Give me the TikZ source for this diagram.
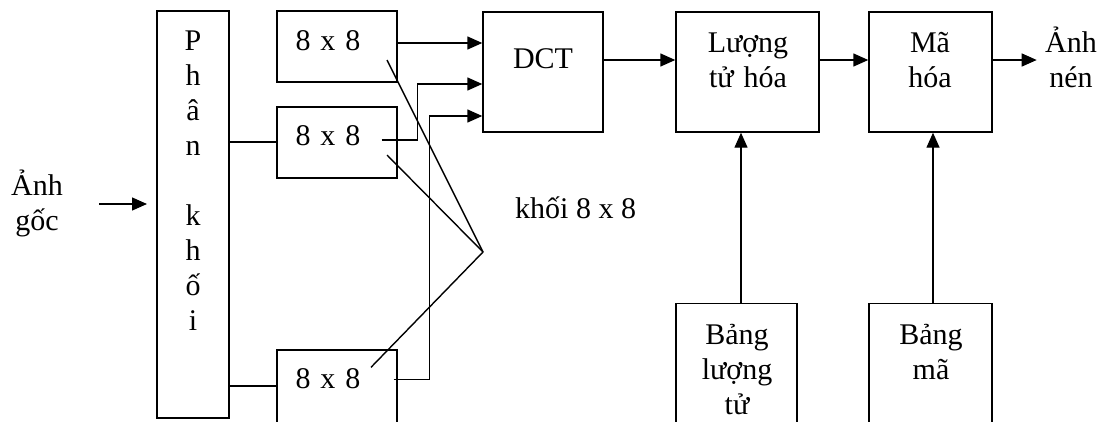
\documentclass[tikz,border=0pt]{standalone}
\usepackage{fontspec}
\setmainfont{Liberation Serif}
\usetikzlibrary{arrows.meta,calc}
\begin{document}
\begin{tikzpicture}[
  x=1pt,y=-1pt,
  font=\fontsize{30}{35}\selectfont,
  box/.style={draw,line width=1.4pt,inner sep=0pt},
  lbl/.style={anchor=base,align=center,text width=150pt,inner sep=0pt},
  link/.style={line width=1.4pt},
  arrow/.style={link,-{Triangle[length=15pt,width=13pt]}}
]
\useasboundingbox (0,0) rectangle (1107,421);
\clip (0,0) rectangle (1107,421);
\node[box,minimum width=72pt,minimum height=407pt] (split) at (193,214.5) {};
\node[box,minimum width=120pt,minimum height=71pt] (blockA) at (337,46.5) {};
\node[box,minimum width=120pt,minimum height=71pt] (blockB) at (337,142.5) {};
\node[box,minimum width=120pt,minimum height=90pt] (blockC) at (337,395) {};
\node[box,minimum width=120pt,minimum height=120pt] (dct) at (543,72) {};
\node[box,minimum width=143pt,minimum height=120pt] (quant) at (747.5,72) {};
\node[box,minimum width=123pt,minimum height=120pt] (coder) at (930.5,72) {};
\node[box,minimum width=121pt,minimum height=136.5pt] (qtable) at (736.5,371.75) {};
\node[box,minimum width=123pt,minimum height=136.5pt] (ctable) at (930.5,371.75) {};
\node[lbl] (srctxt) at (37,195) {Ảnh\\gốc};
\node[lbl] (splittxt) at (193,50) {P\\h\\â\\n\\[35pt]k\\h\\ố\\i};
\node[lbl] (blockAtxt) at (328,50) {8 x 8};
\node[lbl] (blockBtxt) at (328,145) {8 x 8};
\node[lbl] (blockCtxt) at (328,388) {8 x 8};
\node[lbl] (dcttxt) at (543,68) {DCT};
\node[lbl] (quanttxt) at (748,52) {Lượng\\tử hóa};
\node[lbl] (codertxt) at (930,52) {Mã\\hóa};
\node[lbl] (outtxt) at (1071,52) {Ảnh\\nén};
\node[lbl] (qtabletxt) at (737,344) {Bảng\\lượng\\tử};
\node[lbl] (ctabletxt) at (931,344) {Bảng\\mã};
\node[anchor=base west,inner sep=0pt] (blocktxt) at (515,218) {khối 8 x 8};
\coordinate (srcout) at (99,204);
\coordinate (splitin) at (147,204);
\coordinate (meet) at (483,252);
\draw[arrow] (srcout) -- (splitin);
\draw[link] (split.east |- 0,142) -- (blockB.west |- 0,142);
\draw[link] (split.east |- 0,386) -- (blockC.west |- 0,386);
\draw[arrow] (blockA.east |- 0,43) -- (dct.west |- 0,43);
\draw[arrow] ($(blockB.east)+(-16,-2.5)$) -- ++(36,0) |- (dct.west |- 0,84);
\draw[arrow] ($(blockC.north east)+(-4,30)$) -- ++(36,0) |- (dct.west |- 0,116);
\draw[link] ($(blockA.center)+(50,13.5)$) -- (meet);
\draw[link] ($(blockB.center)+(50,12.5)$) -- (meet);
\draw[link] ($(blockC.north)+(34,18)$) -- (meet);
\draw[arrow] (dct.east |- 0,60) -- (quant.west |- 0,60);
\draw[arrow] (quant.east |- 0,60) -- (coder.west |- 0,60);
\draw[arrow] (coder.east |- 0,60) -- ++(44,0);
\draw[arrow] (qtable.north -| 741,0) -- (quant.south -| 741,0);
\draw[arrow] (ctable.north -| 933,0) -- (coder.south -| 933,0);
\end{tikzpicture}
\end{document}
